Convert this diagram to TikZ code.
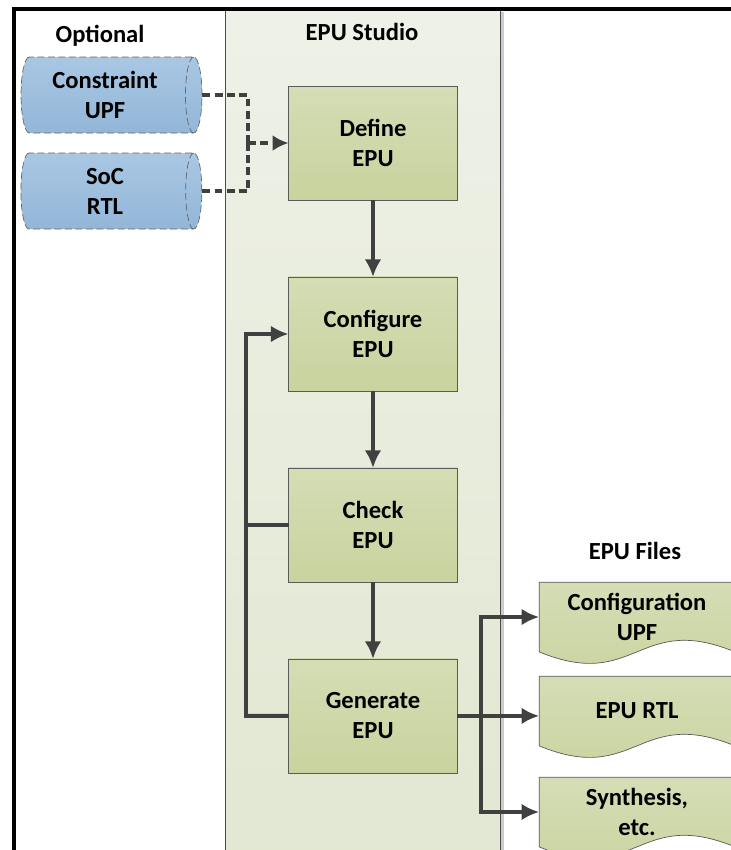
\documentclass[tikz,border=0pt]{standalone}
\usepackage{fontspec}
\setmainfont{Carlito}
\usetikzlibrary{shapes,arrows,arrows.meta,positioning,backgrounds}
\definecolor{boxtop}{HTML}{D5DDB5}
\definecolor{boxbot}{HTML}{C8D39E}
\definecolor{boxline}{HTML}{5A5A5A}
\definecolor{arrowgray}{HTML}{404040}
\definecolor{cyltop}{HTML}{A9C7E3}
\definecolor{cylbot}{HTML}{93B6D8}
\definecolor{paneltop}{HTML}{EEF1E7}
\definecolor{panelbot}{HTML}{E1E7D1}
\tikzstyle{block} = [rectangle, draw=boxline, top color=boxtop, bottom color=boxbot,
    minimum width=3.38cm, minimum height=2.28cm, align=center, outer sep=0pt]
\tikzstyle{store} = [cylinder, draw=gray!80!black, top color=cyltop, bottom color=cylbot,
    minimum width=1.52cm, minimum height=3.62cm, aspect=0.28, align=center,
    dash pattern=on 4pt off 2pt]
\tikzstyle{docfile} = [rectangle, minimum width=3.9cm, minimum height=1.38cm, align=center, inner sep=0pt]
\tikzstyle{title} = [font=\fontsize{14}{17}\selectfont\bfseries]
\tikzstyle{line} = [draw=arrowgray, line width=2.2pt, -{Latex[length=10pt,width=9.5pt]}]
\tikzstyle{dline} = [draw=arrowgray, line width=1.8pt, dash pattern=on 4.5pt off 2.5pt]
\begin{document}
\begin{tikzpicture}[x=0.02cm, y=0.02cm, node distance = 1.54cm,
    font=\fontsize{14}{17}\selectfont\bfseries]
    \useasboundingbox (0,0) rectangle (731,-850);
    % panel and frame
    \fill[gray!40] (500,-12) rectangle (504,-900);
    \draw[gray!60!black, top color=paneltop, bottom color=panelbot] (225,-10) rectangle (500,-900);
    \draw[line width=1.8pt] (14,-900) -- (14,-9) -- (800,-9);
    % Place nodes
    \node [title] (studio) at (362,-32) {EPU Studio};
    \node [title] (optional) at (100,-36) {Optional};
    \node [title] (files) at (635,-551) {EPU Files};
    \node [block] (define) at (373,-143) {Define\\EPU};
    \node [block, below = of define] (configure) {Configure\\EPU};
    \node [block, below = of configure] (check) {Check\\EPU};
    \node [block, below = of check] (generate) {Generate\\EPU};
    \node [store] (upf) at (105,-95) {Constraint\\UPF};
    \node [store] (soc) at (105,-191) {SoC\\RTL};
    \node [docfile] (cfgupf) at (637,-617) {Configuration\\UPF};
    \node [docfile] (epurtl) at (637,-711) {EPU RTL};
    \node [docfile] (synth) at (637,-812) {Synthesis,\\etc.};
    \begin{scope}[on background layer]
    \foreach \d in {cfgupf,epurtl,synth}
        \draw[boxline, top color=boxtop, bottom color=boxbot]
            (\d.north west) -- (\d.north east) -- (\d.south east)
            .. controls +(-97,40) and +(97,-40) .. (\d.south west) -- cycle;
    \end{scope}
    \coordinate (join) at (248,-143);
    \coordinate (loop) at (246,-334);
    \coordinate (split) at (481,-716);
    % connectors
    \path [line] (define) -- (configure);
    \path [line] (configure) -- (check);
    \path [line] (check) -- (generate);
    \draw [dline] (upf.east) -| (join);
    \draw [dline] (soc.east) -| (join);
    \path [dline, -{Latex[length=9pt,width=9pt]}] (join) -- (define.west);
    \path [line] (generate.west) -| (loop) -- (configure.west);
    \draw [arrowgray, line width=2.2pt] (check.west) -- (check.west -| loop);
    \path [line] (generate.east) -- (generate.east -| epurtl.west);
    \path [line] (split) |- (cfgupf.west);
    \path [line] (split) |- (synth.west);
\end{tikzpicture}
\end{document}
